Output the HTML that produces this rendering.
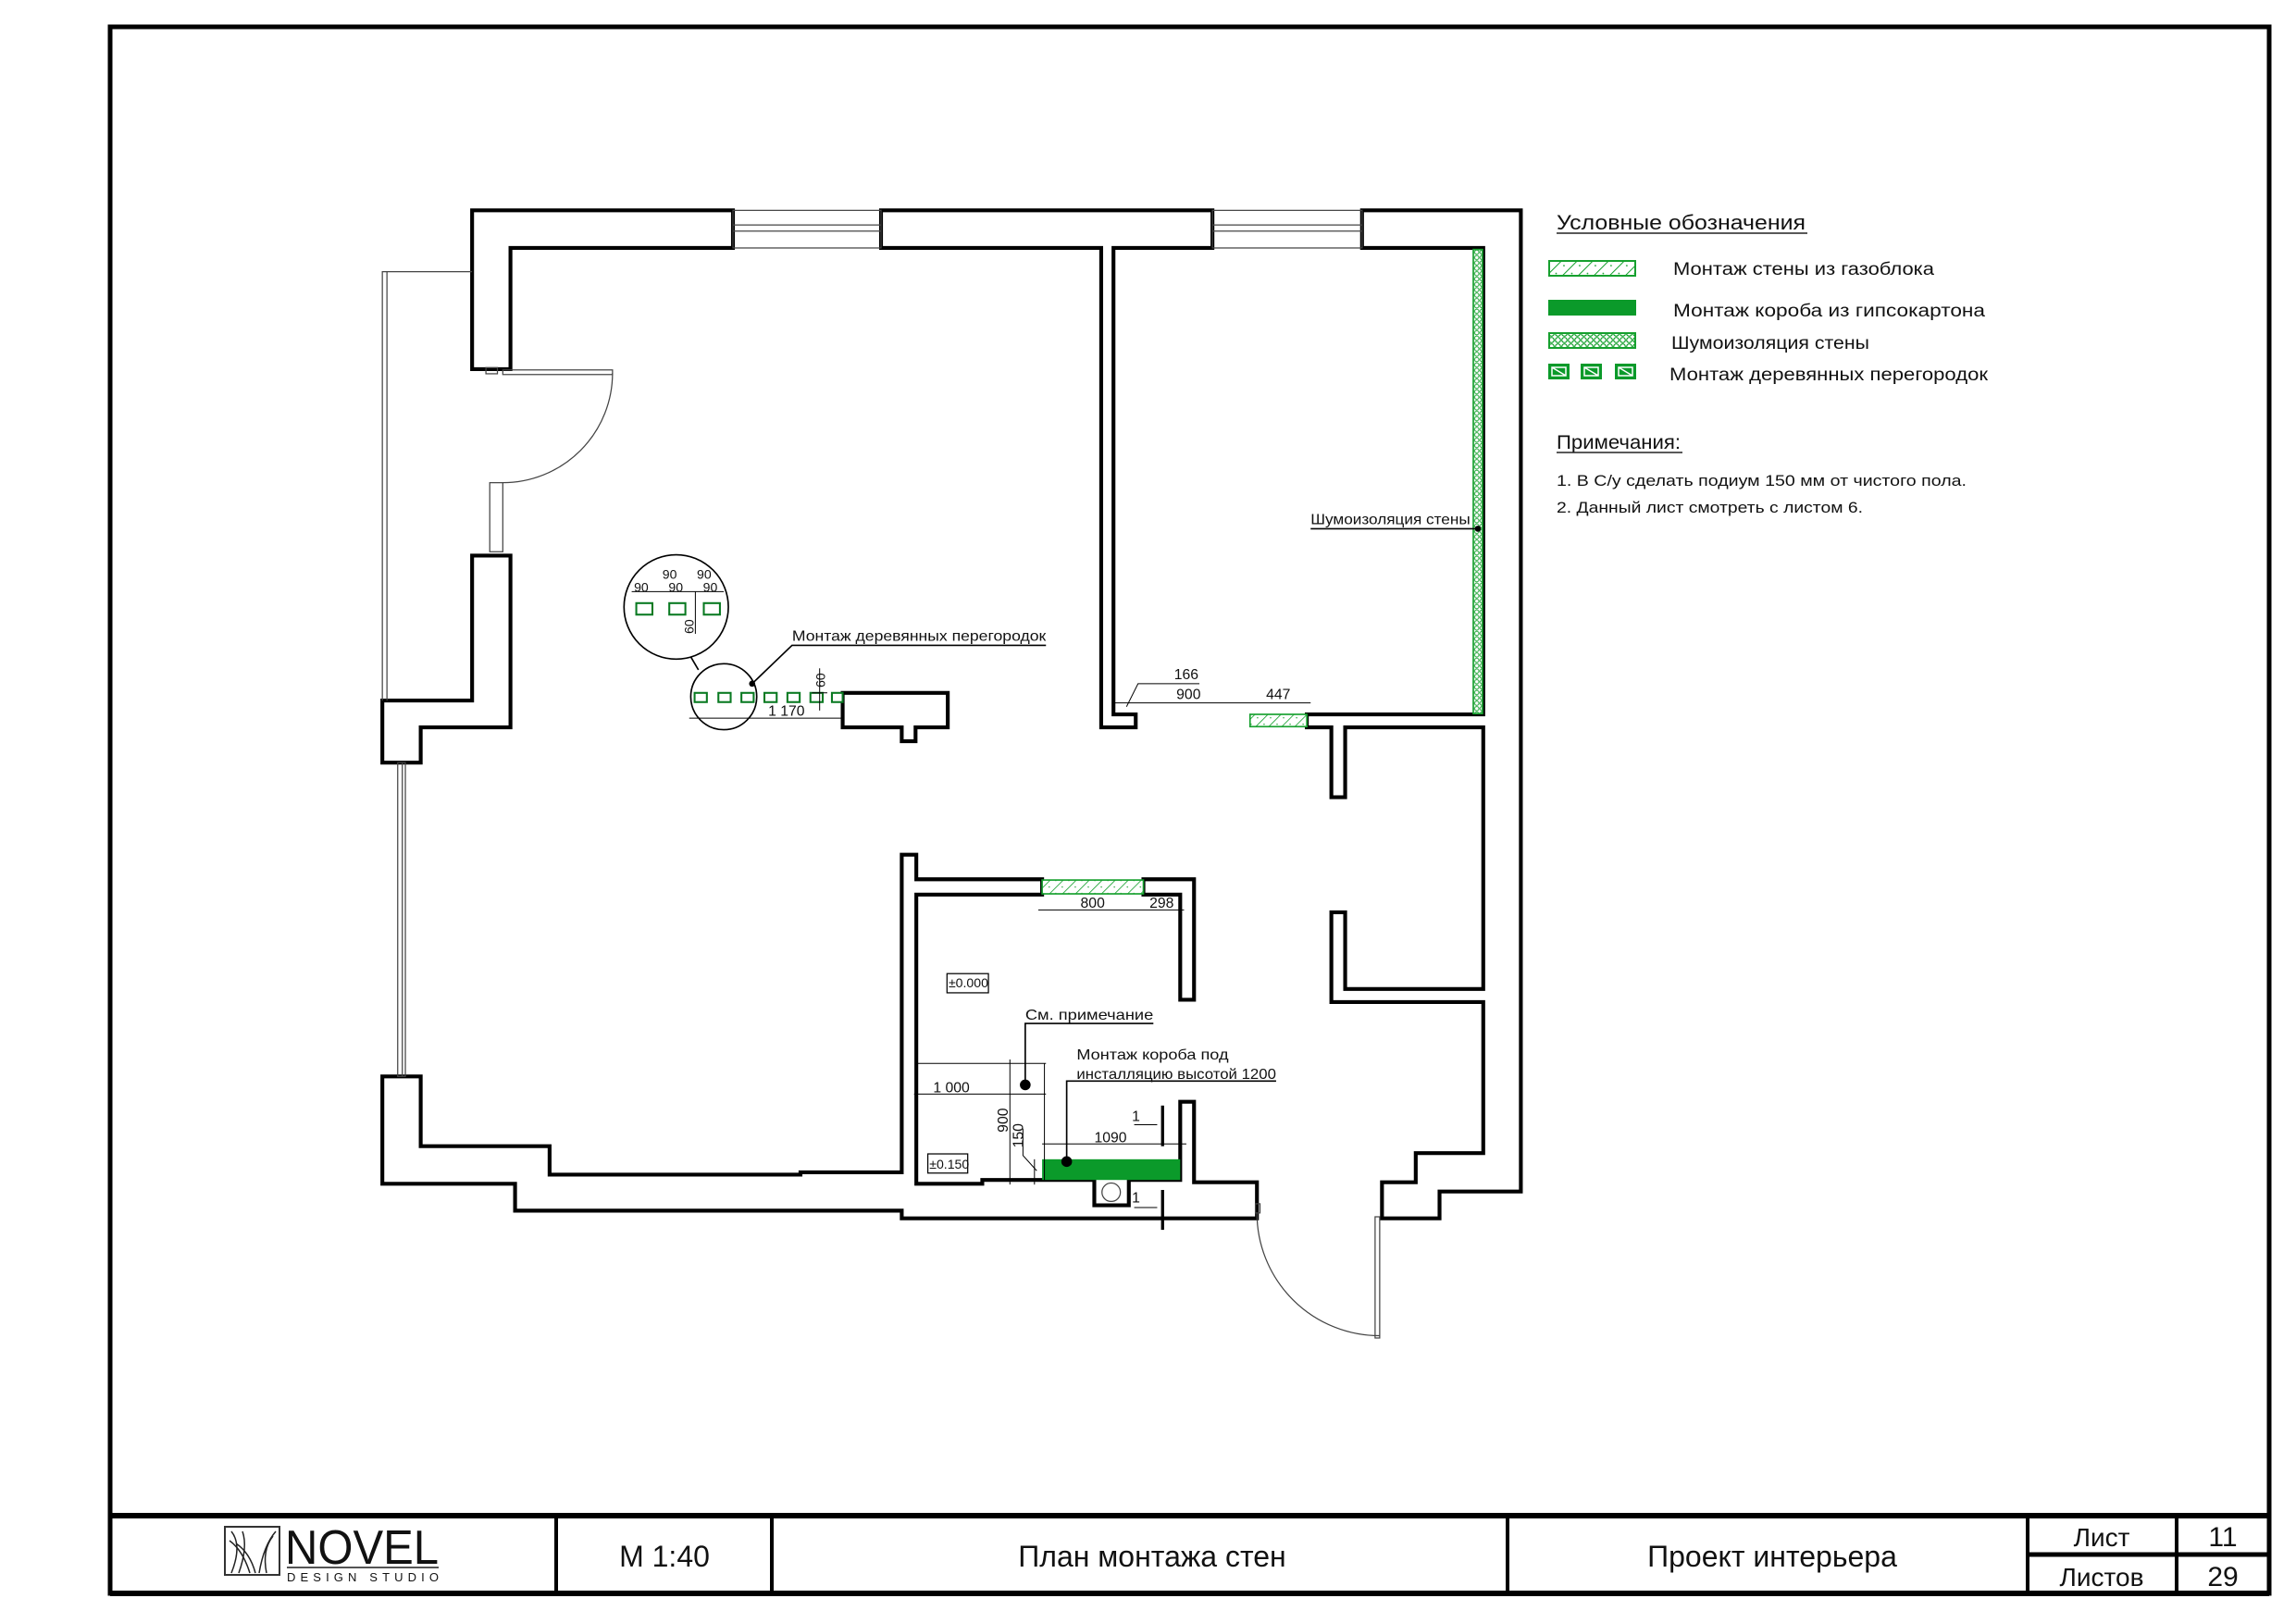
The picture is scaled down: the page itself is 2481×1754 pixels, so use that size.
<!DOCTYPE html>
<html><head><meta charset="utf-8"><style>
html,body{margin:0;padding:0;background:#fff;}
svg{display:block;}
text{font-family:"Liberation Sans",sans-serif;fill:#111;}
</style></head><body>
<svg width="2481" height="1754" viewBox="0 0 2481 1754" xmlns="http://www.w3.org/2000/svg">
<defs>
<pattern id="hatch" width="12" height="12" patternUnits="userSpaceOnUse" patternTransform="rotate(45)">
<rect width="12" height="12" fill="#fff"/><line x1="0" y1="0" x2="0" y2="12" stroke="#16a02e" stroke-width="2"/><circle cx="6" cy="4" r="0.9" fill="#16a02e"/>
</pattern>
<pattern id="dots" width="7" height="7" patternUnits="userSpaceOnUse">
<rect width="7" height="7" fill="#fff"/><circle cx="3.5" cy="3.5" r="2.8" fill="none" stroke="#16a02e" stroke-width="1.2"/>
</pattern>
</defs>
<!-- frame -->
<rect x="119" y="29" width="2333" height="1693" fill="none" stroke="#000" stroke-width="5"/>
<line x1="119" y1="1638" x2="2452" y2="1638" stroke="#000" stroke-width="6"/>
<line x1="119" y1="1722" x2="2452" y2="1722" stroke="#000" stroke-width="6"/>
<g stroke="#000" stroke-width="4">
<line x1="601" y1="1638" x2="601" y2="1722"/>
<line x1="834" y1="1638" x2="834" y2="1722"/>
<line x1="1629" y1="1638" x2="1629" y2="1722"/>
<line x1="2191" y1="1638" x2="2191" y2="1722"/>
<line x1="2352" y1="1638" x2="2352" y2="1722"/>
<line x1="2191" y1="1680" x2="2452" y2="1680" stroke-width="5"/>
</g>
<!-- logo -->
<rect x="243" y="1650" width="59" height="52" fill="none" stroke="#333" stroke-width="2"/>
<g stroke="#222" stroke-width="1.5" fill="none">
<path d="M250 1700 Q262 1670 250 1655"/><path d="M258 1700 Q268 1672 262 1655"/><path d="M270 1700 Q262 1675 248 1665"/>
<path d="M280 1700 Q285 1670 298 1655"/><path d="M288 1700 Q283 1675 295 1660"/><path d="M276 1700 Q270 1678 255 1668"/>
</g>
<text x="308" y="1690" font-size="52" style="font-family:'Liberation Sans Narrow','Liberation Sans',sans-serif" textLength="166" lengthAdjust="spacingAndGlyphs">NOVEL</text>
<line x1="310" y1="1694" x2="474" y2="1694" stroke="#555" stroke-width="2"/>
<text x="310" y="1709" font-size="13" textLength="164" lengthAdjust="spacing">DESIGN STUDIO</text>
<text x="718" y="1693" font-size="32" text-anchor="middle">М 1:40</text>
<text x="1245" y="1693" font-size="32" text-anchor="middle">План монтажа  стен</text>
<text x="1915" y="1693" font-size="32" text-anchor="middle">Проект интерьера</text>
<text x="2271" y="1671" font-size="28" text-anchor="middle">Лист</text>
<text x="2271" y="1714" font-size="28" text-anchor="middle">Листов</text>
<text x="2402" y="1671" font-size="30" text-anchor="middle">11</text>
<text x="2402" y="1714" font-size="30" text-anchor="middle">29</text>

<!-- legend -->
<text x="1682" y="248" font-size="22" textLength="269" lengthAdjust="spacingAndGlyphs">Условные обозначения</text>
<line x1="1682" y1="252" x2="1953" y2="252" stroke="#222" stroke-width="1.5"/>
<rect x="1674" y="282" width="93" height="16" fill="url(#hatch)" stroke="#16a02e" stroke-width="2"/>
<text x="1808" y="297" font-size="19" textLength="282" lengthAdjust="spacingAndGlyphs">Монтаж стены из газоблока</text>
<rect x="1673" y="324" width="95" height="17" fill="#0b9a2a"/>
<text x="1808" y="342" font-size="19" textLength="337" lengthAdjust="spacingAndGlyphs">Монтаж короба из гипсокартона</text>
<rect x="1674" y="360" width="93" height="16" fill="url(#dots)" stroke="#16a02e" stroke-width="2"/>
<text x="1806" y="377" font-size="19" textLength="214" lengthAdjust="spacingAndGlyphs">Шумоизоляция стены</text>
<g fill="#0b9a2a">
<rect x="1673" y="393" width="23" height="17"/><rect x="1708" y="393" width="23" height="17"/><rect x="1745" y="393" width="23" height="17"/>
</g>
<g stroke="#fff" stroke-width="1.5" fill="none">
<path d="M1677 397h15v9h-15z M1677 397l15 9"/><path d="M1712 397h15v9h-15z M1712 397l15 9"/><path d="M1749 397h15v9h-15z M1749 397l15 9"/>
</g>
<text x="1804" y="411" font-size="19" textLength="344" lengthAdjust="spacingAndGlyphs">Монтаж деревянных перегородок</text>
<text x="1682" y="485" font-size="21" textLength="134" lengthAdjust="spacingAndGlyphs">Примечания:</text>
<line x1="1682" y1="489" x2="1818" y2="489" stroke="#222" stroke-width="1.5"/>
<text x="1682" y="525" font-size="17" textLength="443" lengthAdjust="spacingAndGlyphs">1. В С/у сделать подиум 150 мм от чистого пола.</text>
<text x="1682" y="554" font-size="17" textLength="331" lengthAdjust="spacingAndGlyphs">2. Данный лист смотреть с листом 6.</text>

<!-- plan in zoom coords -->
<g transform="translate(380,200) scale(0.829)">
<g fill="#fff" stroke="#000" stroke-width="5" stroke-linejoin="miter">
<polygon points="157,33 497,33 497,82 207,82 207,240 157,240"/>
<polygon points="157,483 207,483 207,707 90,707 90,753 40,753 40,672 157,672"/>
<polygon points="40,1162 90,1162 90,1253 258,1253 258,1290 585,1290 585,1287 717,1287 717,873 736,873 736,905 900,905 900,925 736,925 736,1302 822,1302 822,1297 968,1297 968,1330 1013,1330 1013,1297 1080,1297 1080,1195 1098,1195 1098,1300 1180,1300 1180,1347 717,1347 717,1337 213,1337 213,1302 40,1302"/>
<polygon points="1032,905 1098,905 1098,1062 1080,1062 1080,925 1032,925"/>
<polygon points="690,33 1122,33 1122,82 993,82 993,690 1022,690 1022,707 977,707 977,82 690,82"/>
<polygon points="1317,33 1524,33 1524,1312 1418,1312 1418,1347 1343,1347 1343,1300 1387,1300 1387,1262 1475,1262 1475,1065 1277,1065 1277,948 1295,948 1295,1048 1475,1048 1475,707 1295,707 1295,798 1277,798 1277,707 1245,707 1245,690 1475,690 1475,82 1317,82"/>
<polygon points="640,662 777,662 777,707 735,707 735,725 717,725 717,707 640,707"/>
</g>
<!-- windows -->
<g fill="none" stroke="#444" stroke-width="1.5">
<rect x="497" y="33" width="193" height="49"/><line x1="497" y1="52" x2="690" y2="52"/><line x1="497" y1="60" x2="690" y2="60"/>
<rect x="1122" y="33" width="195" height="49"/><line x1="1122" y1="52" x2="1317" y2="52"/><line x1="1122" y1="60" x2="1317" y2="60"/>
<path d="M157 113 H40 V672"/><line x1="46" y1="113" x2="46" y2="672"/>
<rect x="60" y="753" width="10" height="409"/><line x1="66" y1="753" x2="66" y2="1162"/>
<rect x="180" y="388" width="17" height="90"/>
<rect x="175" y="238" width="15" height="8"/>
<rect x="197" y="241" width="143" height="6"/>
<path d="M340 245 A143 143 0 0 1 197 388"/>
<rect x="1334" y="1345" width="6" height="158"/>
<path d="M1180 1340 A160 160 0 0 0 1340 1500"/>
<rect x="1178" y="1328" width="6" height="12"/>
<circle cx="990" cy="1313" r="12"/>
</g>
<!-- green -->
<rect x="1462" y="84" width="12" height="605" fill="url(#dots)" stroke="#16a02e" stroke-width="2"/>
<rect x="1171" y="690" width="74" height="16" fill="url(#hatch)" stroke="#16a02e" stroke-width="2"/>
<rect x="900" y="906" width="132" height="18" fill="url(#hatch)" stroke="#16a02e" stroke-width="2"/>
<rect x="900" y="1270" width="180" height="27" fill="#0b9a2a"/>
<!-- small posts -->
<g fill="#fff" stroke="#0a7a22" stroke-width="2.5">
<rect x="447" y="662" width="16" height="12"/><rect x="478" y="662" width="16" height="12"/><rect x="508" y="662" width="16" height="12"/><rect x="538" y="662" width="16" height="12"/><rect x="568" y="662" width="16" height="12"/><rect x="598" y="662" width="16" height="12"/><rect x="626" y="662" width="14" height="12"/>
<rect x="371" y="545" width="21" height="15"/><rect x="414" y="545" width="21" height="15"/><rect x="459" y="545" width="21" height="15"/>
</g>
<!-- circles & leaders -->
<g fill="none" stroke="#000" stroke-width="2">
<circle cx="423" cy="550" r="68"/><circle cx="485" cy="667" r="43"/>
<line x1="442" y1="615" x2="452" y2="632"/>
<polyline points="522,650 574,600 905,600"/>
<line x1="1250" y1="448" x2="1468" y2="448"/>
<polyline points="878,1173 878,1093 1045,1093"/>
<polyline points="932,1273 932,1168 1205,1168"/>
</g>
<circle cx="522" cy="650" r="4"/><circle cx="1468" cy="448" r="4"/>
<circle cx="878" cy="1173" r="7"/><circle cx="932" cy="1273" r="7"/>
<!-- dims -->
<g stroke="#000" stroke-width="1.2" fill="none">
<line x1="440" y1="695" x2="640" y2="695"/><line x1="610" y1="630" x2="610" y2="685"/><line x1="600" y1="662" x2="620" y2="662"/>
<line x1="365" y1="530" x2="485" y2="530"/><line x1="448" y1="530" x2="448" y2="585"/>
<line x1="993" y1="675" x2="1250" y2="675"/><polyline points="1010,680 1025,650 1105,650"/>
<line x1="895" y1="945" x2="1085" y2="945"/>
<line x1="733" y1="1185" x2="905" y2="1185"/><line x1="735" y1="1145" x2="905" y2="1145"/>
<line x1="858" y1="1140" x2="858" y2="1303"/>
<line x1="900" y1="1250" x2="1088" y2="1250"/>
<polyline points="875,1230 875,1265 893,1285"/>
<line x1="890" y1="1270" x2="890" y2="1303"/><line x1="903" y1="1145" x2="903" y2="1297"/>
<line x1="1050" y1="1225" x2="1020" y2="1225"/><line x1="1050" y1="1333" x2="1020" y2="1333"/>
</g>
<line x1="1057" y1="1200" x2="1057" y2="1253" stroke="#000" stroke-width="4"/>
<line x1="1057" y1="1310" x2="1057" y2="1362" stroke="#000" stroke-width="4"/>
<rect x="776" y="1028" width="54" height="25" fill="none" stroke="#000" stroke-width="1.5"/>
<rect x="751" y="1263" width="52" height="25" fill="none" stroke="#000" stroke-width="1.5"/>
<g font-size="19">
<text x="574" y="594" textLength="331" lengthAdjust="spacingAndGlyphs">Монтаж деревянных перегородок</text>
<text x="1250" y="442" textLength="208" lengthAdjust="spacingAndGlyphs">Шумоизоляция стены</text>
<text x="878" y="1088" textLength="167" lengthAdjust="spacingAndGlyphs">См. примечание</text>
<text x="945" y="1140" textLength="198" lengthAdjust="spacingAndGlyphs">Монтаж короба под</text>
<text x="945" y="1165" textLength="260" lengthAdjust="spacingAndGlyphs">инсталляцию высотой 1200</text>
<text x="778" y="1046" font-size="17">±0.000</text>
<text x="753" y="1282" font-size="17">±0.150</text>
<text x="543" y="692">1 170</text>
<text x="1072" y="644">166</text>
<text x="1075" y="670">900</text>
<text x="1192" y="670">447</text>
<text x="950" y="942">800</text>
<text x="1040" y="942">298</text>
<text x="758" y="1183">1 000</text>
<text x="968" y="1248">1090</text>
<text x="1017" y="1220">1</text>
<text x="1017" y="1326">1</text>
<text x="405" y="513" font-size="17">90</text><text x="450" y="513" font-size="17">90</text>
<text x="368" y="530" font-size="17">90</text><text x="413" y="530" font-size="17">90</text><text x="458" y="530" font-size="17">90</text>
<text transform="translate(446,585) rotate(-90)" font-size="17">60</text>
<text transform="translate(617,655) rotate(-90)" font-size="17">60</text>
<text transform="translate(855,1235) rotate(-90)">900</text>
<text transform="translate(875,1255) rotate(-90)">150</text>
</g>
</g>
</svg>
</body></html>
